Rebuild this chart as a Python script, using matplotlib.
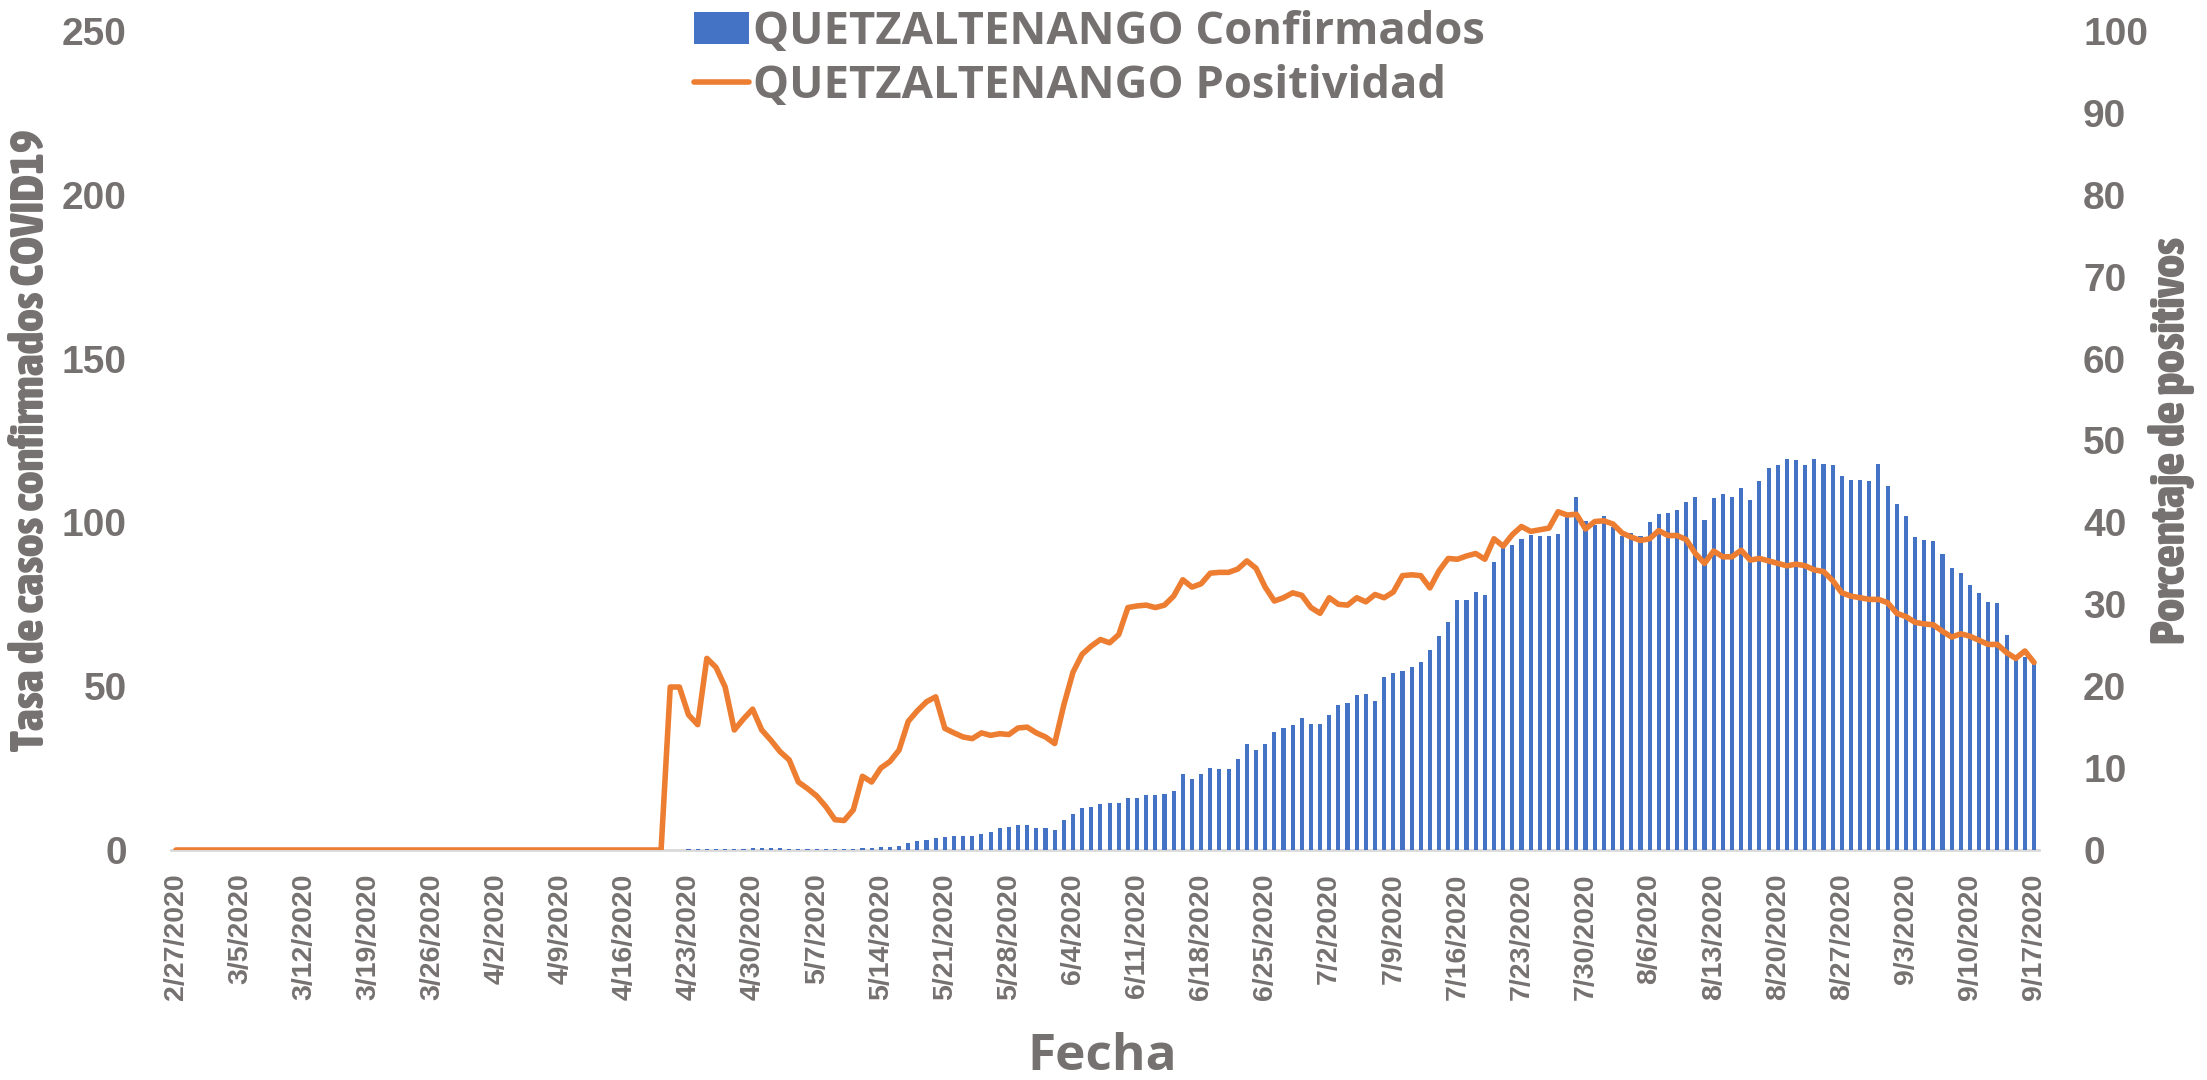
import matplotlib
matplotlib.use('Agg')
import matplotlib.pyplot as plt
from matplotlib import font_manager
import numpy as np
import pandas as pd

# one category per day, a label every 7th day
dates = pd.date_range('2020-02-27', '2020-09-17', freq='D')
label_step = 7

# tasa de casos confirmados (left axis)
confirmados = [
    0, 0, 0, 0, 0, 0, 0, 0, 0, 0, 0, 0, 0, 0, 0, 0, 0, 0,
    0, 0, 0, 0, 0, 0, 0, 0, 0, 0, 0, 0, 0, 0, 0, 0, 0, 0,
    0, 0, 0, 0, 0, 0, 0, 0, 0, 0, 0, 0, 0, 0, 0, 0, 0, 0,
    0.1, 0.1, 0.2, 0.2, 0.3, 0.3, 0.3, 0.3, 0.4, 0.5, 0.5, 0.5, 0.5, 0.4,
    0.3, 0.2, 0.2, 0.2, 0.2, 0.2, 0.2,
    0.5, 0.5, 0.8, 1.0, 1.3, 2.0, 2.7, 3.1, 3.8, 4.1, 4.3, 4.3, 4.3, 4.8, 5.5,
    6.8, 7.0, 7.5, 7.5, 6.8, 6.7, 6.1, 9.2, 11.1, 12.9, 13.1, 13.9, 14.3, 14.3,
    15.9, 15.9, 16.8, 16.8, 17.2, 18.1, 23.1, 21.6, 23.1, 25.0, 24.7, 24.7,
    27.9, 32.5, 30.5, 32.5, 36.1, 37.2, 38.3, 40.2, 38.4, 38.4,
    41.2, 44.4, 44.8, 47.3, 47.5, 45.5,
    52.7, 54.0, 54.7, 56.0, 57.4, 61.0, 65.2, 69.7, 76.2, 76.4,
    78.7, 77.7, 88.0, 92.1, 93.0, 95.0, 96.3, 96.0, 96.0, 96.4,
    101.6, 107.7, 100.3, 99.3, 102.1, 98.6, 96.0, 96.9, 95.7, 100.2,
    102.5, 102.8, 103.8, 106.2, 107.7, 100.6, 107.5, 108.7,
    107.7, 110.4, 106.8, 112.7, 116.5, 117.5, 119.4, 119.1, 117.5, 119.5,
    117.8, 117.5, 114.3, 113.0, 113.0, 112.6, 117.9, 111.0, 105.5, 102.1,
    95.4, 94.7, 94.3, 90.4, 86.2, 84.5, 81.0, 78.4, 75.8, 75.5,
    65.6, 58.2, 58.8, 56.9,
]

# porcentaje de positivos (right axis)
positividad = [
    0, 0, 0, 0, 0, 0, 0, 0, 0, 0, 0, 0, 0, 0, 0, 0, 0, 0,
    0, 0, 0, 0, 0, 0, 0, 0, 0, 0, 0, 0, 0, 0, 0, 0, 0, 0,
    0, 0, 0, 0, 0, 0, 0, 0, 0, 0, 0, 0, 0, 0, 0, 0, 0, 0,
    19.9, 19.9, 16.5, 15.3, 23.4, 22.3, 19.9, 14.65, 16.0, 17.2,
    14.65, 13.4, 12.0, 11.0, 8.3, 7.5, 6.6, 5.3, 3.7, 3.6,
    4.9, 9.0, 8.3, 10.0, 10.8, 12.2, 15.7, 17.0, 18.1, 18.7,
    14.85, 14.3, 13.8, 13.6, 14.3, 14.0, 14.2, 14.1, 14.9,
    15.0, 14.3, 13.8, 13.0, 17.7, 21.7, 23.9, 24.9, 25.7, 25.3,
    26.3, 29.6, 29.8, 29.9, 29.6, 29.9, 31.0, 33.0, 32.1, 32.5,
    33.8, 33.9, 33.9, 34.3, 35.3, 34.4, 32.1, 30.4, 30.8, 31.4,
    31.1, 29.6, 28.9, 30.8, 30.0, 29.9, 30.8, 30.3, 31.2,
    30.8, 31.5, 33.5, 33.6, 33.5, 32.0, 34.1, 35.6, 35.5, 35.9,
    36.2, 35.5, 38.0, 37.1, 38.5, 39.5, 38.9, 39.1, 39.3, 41.3,
    40.9, 41.0, 39.2, 40.1, 40.2, 39.8, 38.7, 38.2, 37.8, 38.0,
    39.0, 38.4, 38.4, 37.9, 36.2, 35.0, 36.5, 35.8,
    35.8, 36.6, 35.4, 35.6, 35.3, 35.0, 34.7, 34.9, 34.7, 34.2,
    34.0, 32.9, 31.4, 31.0, 30.8, 30.6, 30.6, 30.2, 28.9, 28.5,
    27.8, 27.6, 27.5, 26.7, 26.0, 26.4, 26.1, 25.6, 25.1, 25.1,
    24.1, 23.4, 24.3, 22.9,
]

left_ticks = [0, 50, 100, 150, 200, 250]
right_ticks = [0, 10, 20, 30, 40, 50, 60, 70, 80, 90, 100]

GRAY = '#767171'
BLUE = '#4472C4'
ORANGE = '#ED7D31'
AXIS_GRAY = '#D9D9D9'

installed = {f.name for f in font_manager.fontManager.ttflist}


def pick_font(*names):
    for name in names:
        if name in installed:
            return name
    return 'DejaVu Sans'


def weight_num(w):
    table = {'bold': 700, 'semibold': 600, 'demibold': 600, 'heavy': 800,
             'black': 900, 'extra bold': 800, 'normal': 400, 'regular': 400}
    if isinstance(w, (int, float)):
        return w
    return table.get(str(w).lower(), 400)


def condensed_bold():
    # narrowest, heaviest real face among the installed fonts
    for stretch in ('ultra-condensed', 'extra-condensed', 'condensed', 'semi-condensed'):
        faces = [f for f in font_manager.fontManager.ttflist
                 if str(f.stretch) == stretch and weight_num(f.weight) >= 600
                 and 'italic' not in str(f.style).lower()]
        if faces:
            best = max(faces, key=lambda f: weight_num(f.weight))
            return font_manager.FontProperties(fname=best.fname)
    for f in font_manager.fontManager.ttflist:
        if 'Narrow' in f.name and weight_num(f.weight) >= 600:
            return font_manager.FontProperties(fname=f.fname)
    return font_manager.FontProperties(family=pick_font('Liberation Sans'), weight='bold')


tick_font = pick_font('Liberation Sans', 'Arimo')
legend_font = pick_font('Open Sans', 'Noto Sans')
cond = condensed_bold()
left_title = cond.copy()
left_title.set_size(28)
right_title = cond.copy()
right_title.set_size(28)

W, H = 2207, 1080
fig = plt.figure(figsize=(W / 100, H / 100), dpi=100)
ax = fig.add_axes([171.4 / W, 230 / H, 1867.2 / W, 819 / H])

x = np.arange(len(dates))
bars = ax.bar(x, confirmados, width=0.45, color=BLUE, zorder=2,
              label='QUETZALTENANGO Confirmados')

ax2 = ax.twinx()
line, = ax2.plot(x, positividad, color=ORANGE, lw=4.0, solid_joinstyle='round',
                 solid_capstyle='round', label='QUETZALTENANGO Positividad')

ax.set_xlim(-0.5, len(dates) - 0.5)
ax.set_ylim(0, 250)
ax2.set_ylim(0, 100)
ax.set_yticks(left_ticks)
ax2.set_yticks(right_ticks)

tick_pos = x[::label_step]
tick_lab = [f'{d.month}/{d.day}/{d.year}' for d in dates[::label_step]]
ax.set_xticks(tick_pos)
ax.set_xticklabels(tick_lab, rotation=90, ha='center', va='top',
                   fontfamily=tick_font, fontweight='bold', fontsize=20.5, color=GRAY)

for lab in ax.get_yticklabels() + ax2.get_yticklabels():
    lab.set_fontfamily(tick_font)
    lab.set_fontweight('bold')
    lab.set_fontsize(28)
    lab.set_color(GRAY)

ax.tick_params(axis='x', length=0, pad=17)
ax.tick_params(axis='y', length=0, pad=32)
ax2.tick_params(axis='y', length=0, pad=32)

for a in (ax, ax2):
    for s in ('top', 'left', 'right'):
        a.spines[s].set_visible(False)
ax2.spines['bottom'].set_visible(False)
ax.spines['bottom'].set_color(AXIS_GRAY)
ax.spines['bottom'].set_linewidth(2)
ax.spines['bottom'].set_zorder(1)

ylab_l = ax.set_ylabel('Tasa de casos confirmados COVID19', fontproperties=left_title,
                       color=GRAY, va='center')
ax.yaxis.set_label_coords(-0.0752, 0.5)
ylab_r = ax2.set_ylabel('Porcentaje de positivos', fontproperties=right_title,
                        color=GRAY, va='center', rotation=90)
ax2.yaxis.set_label_coords(1.0714, 0.5)
ax.set_xlabel('Fecha', fontfamily=legend_font, fontweight='bold', fontsize=37,
              color=GRAY, va='center')
ax.xaxis.set_label_coords(0.4984, -0.2527)

# size the axis titles so their length matches the original (in pixels)
fig.canvas.draw()
renderer = fig.canvas.get_renderer()
for lab, target in ((ylab_l, 619), (ylab_r, 405)):
    length = lab.get_window_extent(renderer).height
    lab.set_fontsize(lab.get_fontsize() * target / length)

leg = fig.legend([bars, line], [bars.get_label(), line.get_label()],
                 loc='upper left', bbox_to_anchor=(694 / W, 1 - 10 / H),
                 frameon=False, borderpad=0, borderaxespad=0,
                 handlelength=1.22, handleheight=0.7, handletextpad=0.08,
                 labelspacing=0.2,
                 prop={'family': legend_font, 'weight': 'bold', 'size': 32.7})
for t in leg.get_texts():
    t.set_color(GRAY)

fig.savefig('out.png', dpi=100)
